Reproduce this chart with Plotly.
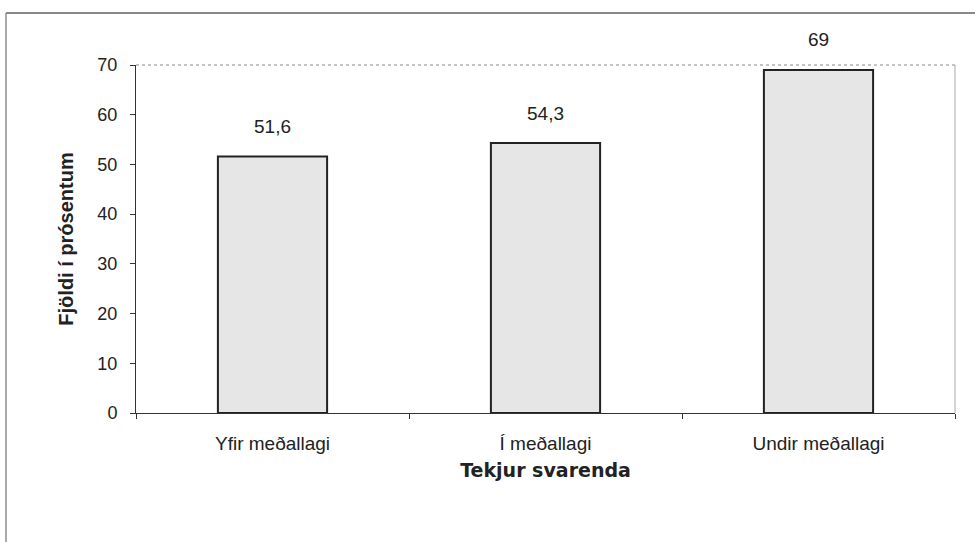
import plotly.graph_objects as go

categories = ["Yfir meðallagi", "Í meðallagi", "Undir meðallagi"]
values = [51.6, 54.3, 69]
value_labels = ["51,6", "54,3", "69"]
y_ticks = [0, 10, 20, 30, 40, 50, 60, 70]

FONT = "Liberation Sans, Arial, sans-serif"
L, R, T, B = 136, 20, 65, 129
W, H = 975, 542
pw = W - L - R
ph = H - T - B

fig = go.Figure()
fig.add_trace(go.Bar(
    x=categories, y=values,
    marker=dict(color="#e6e6e6", line=dict(color="#222222", width=2)),
    width=0.4,
    cliponaxis=False,
    hoverinfo="skip",
))

for c, v, t in zip(categories, values, value_labels):
    fig.add_annotation(x=c, y=v, text=t, showarrow=False, yshift=30,
                       font=dict(family=FONT, size=19, color="#222222"))

# outer frame (left and top)
fx0 = (6 - L) / pw
fy_top = 1 + (T - 13) / ph
fy_bot = 1 + (T - 542) / ph
fig.add_shape(type="line", xref="paper", yref="paper", x0=fx0, x1=fx0, y0=fy_bot, y1=fy_top,
              line=dict(color="#aaaaaa", width=2))
fig.add_shape(type="line", xref="paper", yref="paper", x0=fx0, x1=1 + R / pw, y0=fy_top, y1=fy_top,
              line=dict(color="#888888", width=2))
# plot area top (dotted) and right edge
fig.add_shape(type="line", xref="paper", yref="paper", x0=0, x1=1, y0=1, y1=1,
              line=dict(color="#888888", width=1, dash="dot"))
fig.add_shape(type="line", xref="paper", yref="paper", x0=1, x1=1, y0=0, y1=1,
              line=dict(color="#aaaaaa", width=1))

fig.update_layout(
    width=W, height=H,
    margin=dict(l=L, r=R, t=T, b=B),
    paper_bgcolor="white", plot_bgcolor="white",
    showlegend=False,
    separators=",.",
    font=dict(family=FONT, size=18, color="#222222"),
    xaxis=dict(
        showgrid=False, showline=True, linecolor="#333333", linewidth=1,
        ticks="outside", ticklen=5, tickcolor="#333333", tickson="boundaries",
        ticklabelstandoff=13,
        tickfont=dict(family=FONT, size=19, color="#222222"),
        title=dict(text="<b>Tekjur svarenda</b>", standoff=10,
                   font=dict(family="DejaVu Sans, sans-serif", size=19, color="#222222")),
    ),
    yaxis=dict(
        range=[0, 70], tickvals=y_ticks, showgrid=False, zeroline=False,
        showline=True, linecolor="#333333", linewidth=1,
        ticks="outside", ticklen=5, tickcolor="#333333",
        ticklabelstandoff=9,
        tickfont=dict(family=FONT, size=18, color="#222222"),
        title=dict(text="<b>Fjöldi í prósentum</b>", standoff=18,
                   font=dict(family=FONT, size=20, color="#222222")),
    ),
)

fig.write_html("out.html", config={"displayModeBar": False},
               post_script="document.body.style.margin='0';")
